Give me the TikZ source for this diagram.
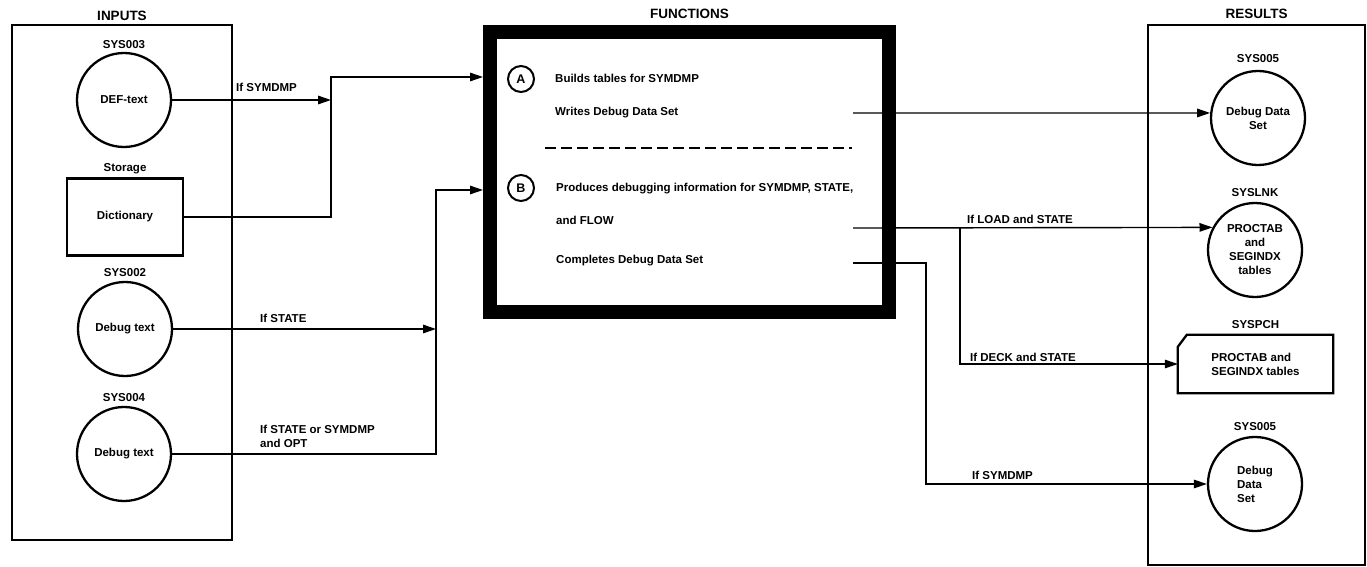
\documentclass[tikz,border=0pt]{standalone}
\usepackage{fontspec}
\setmainfont{Liberation Sans}
\usetikzlibrary{arrows.meta,positioning}
\newcommand{\dtxt}{\bfseries\fontsize{11.5}{14}\selectfont}
\tikzset{
  dset/.style={circle, draw, line width=2.3pt, minimum size=94pt, inner sep=0pt,
               align=center, font=\dtxt},
  sbox/.style={rectangle, draw, line width=2.3pt, minimum width=116pt, minimum height=77pt, font=\dtxt},
  frame/.style={rectangle, draw, line width=2.2pt, inner sep=0pt},
  ttl/.style={inner sep=0pt, font=\bfseries\fontsize{13.5}{15}\selectfont},
  dname/.style={inner sep=0pt, font=\dtxt},
  cond/.style={anchor=south west, inner sep=0pt, align=left, font=\dtxt},
  ftxt/.style={anchor=base west, inner sep=0pt, font=\dtxt},
  tag/.style={circle, draw, line width=2pt, minimum size=26pt, inner sep=0pt,
              font=\bfseries\fontsize{12.5}{14}\selectfont},
  farr/.style={-{Triangle[length=13pt,width=8.5pt]}, line width=1.4pt},
}
\begin{document}
\begin{tikzpicture}[x=1pt, y=-1pt]
    \useasboundingbox[fill=white] (0,0) rectangle (1367,567);
    % frames
    \node[frame, minimum width=220pt, minimum height=515pt](inbox) at (122,282.5){};
    \node[ttl, above=3pt of inbox](inttl){INPUTS};
    \node[draw, line width=14pt, minimum width=399pt, minimum height=280pt, inner sep=0pt](fun) at (689.5,172){};
    \node[ttl, above=6pt of fun](funttl){FUNCTIONS};
    \node[frame, minimum width=217pt, minimum height=540pt](resbox) at (1256.5,295){};
    \node[ttl, above=5pt of resbox](resttl){RESULTS};
    % inputs
    \node[dset](deftext) at (124,100){DEF-text};
    \node[dname, above=3pt of deftext]{SYS003};
    \node[sbox](dict) at (125,217){Dictionary};
    \node[dname, above=3pt of dict]{Storage};
    \node[dset](dbgA) at (125,329){Debug text};
    \node[dname, above=4pt of dbgA]{SYS002};
    \node[dset](dbgB) at (124,454){Debug text};
    \node[dname, above=4pt of dbgB]{SYS004};
    % functions
    \node[tag](tagA) at (521,79){A};
    \node[ftxt](fA1) at (555,83){Builds tables for SYMDMP};
    \node[ftxt](fA2) at (555,116){Writes Debug Data Set};
    \draw[line width=1.4pt, dash pattern=on 11pt off 5pt] (545,148) -- (852,148);
    \node[tag](tagB) at (521,188){B};
    \node[ftxt](fB1) at (556,191){Produces debugging information for SYMDMP, STATE,};
    \node[ftxt](fB2) at (556,224){and FLOW};
    \node[ftxt](fB3) at (556,263){Completes Debug Data Set};
    % results
    \node[dset](ddsA) at (1258,118){Debug Data\\Set};
    \node[dname, above=7pt of ddsA]{SYS005};
    \node[dset](ptab) at (1255,250){PROCTAB\\and\\SEGINDX\\tables};
    \node[dname, above=5pt of ptab]{SYSLNK};
    \node[inner sep=0pt, minimum width=155pt, minimum height=58pt, align=left, font=\dtxt](card) at (1255.5,364){PROCTAB and\\SEGINDX tables};
    \draw[line width=2.3pt]([xshift=9pt]card.north west) -- (card.north east) -- (card.south east)
        -- (card.south west) -- ([yshift=-12pt]card.north west) -- cycle;
    \node[dname, above=6pt of card]{SYSPCH};
    \node[dset, align=left](ddsB) at (1255,484){Debug\\Data\\Set};
    \node[dname, above=5pt of ddsB]{SYS005};
    % junctions
    \coordinate(jA) at (331,100);
    \coordinate(jAtop) at (331,77);
    \coordinate(jB) at (436,190);
    \coordinate(oA) at (853,113);
    \coordinate(oB) at (853,228);
    \coordinate(oC) at (853,263);
    \coordinate(jL) at (960,228);
    \coordinate(jS) at (926,263);
    % connectors
    \draw[farr](deftext) -- (jA);
    \draw[farr](dict) -| (jAtop) -- (jAtop -| fun.west);
    \draw[farr](dbgA) -- (dbgA -| jB);
    \draw[farr](dbgB) -| (jB) -- (jB -| fun.west);
    \draw[farr](oA) -- (ddsA.174);
    \draw[farr](oB) -- (ptab.152);
    \draw[farr](jL) |- (card.west);
    \draw[farr](oC) -- (jS) |- (ddsB);
    % conditions
    \node[cond] at (236,92){If SYMDMP};
    \node[cond] at (260,323){If STATE};
    \node[cond] at (260,448){If STATE or SYMDMP\\and OPT};
    \node[cond] at (967,224){If LOAD and STATE};
    \node[cond] at (970,362){If DECK and STATE};
    \node[cond] at (972,480){If SYMDMP};
\end{tikzpicture}
\end{document}
